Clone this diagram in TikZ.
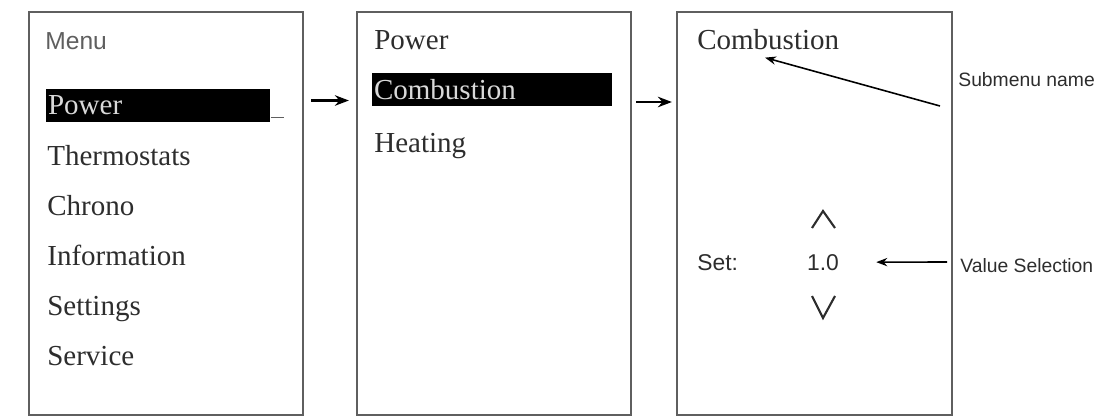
\documentclass[tikz,border=0pt]{standalone}
\usepackage{fontspec}
\setmainfont{Liberation Serif}
\setsansfont{Liberation Sans}
\usetikzlibrary{arrows.meta,calc}
\definecolor{frame}{RGB}{95,95,95}
\definecolor{ink}{RGB}{45,45,45}

\begin{document}
\begin{tikzpicture}[x=0.02cm,y=-0.02cm,
 panel/.style={draw=frame,line width=1.3pt,minimum width=5.48cm,minimum height=8.06cm},
 item/.style={anchor=base west,inner sep=0pt,text=ink,font=\fontsize{16.5}{18}\selectfont},
 hl/.style={anchor=west,fill=black,text=white!85!black,inner xsep=1pt,inner ysep=0pt,
 minimum height=.68cm,align=left,font=\fontsize{16.5}{18}\selectfont},
 num/.style={anchor=base west,inner sep=0pt,text=ink,font=\sffamily\fontsize{13}{15}\selectfont},
 note/.style={anchor=west,inner sep=0pt,text=ink,font=\sffamily\fontsize{11}{13}\selectfont},
 arrow/.style={-{Stealth[length=2.8mm]},line width=1.2pt},
 pointer/.style={-{Stealth[length=2.2mm]},line width=.9pt},
 chev/.style={draw=ink,line width=1.2pt}
]
\useasboundingbox (0,0) rectangle (1109,419);
\node[panel] (menu) at (166,213.5) {};
\node[panel] (sub) at (494,213.5) {};
\node[panel,minimum width=5.5cm] (edit) at (814.5,213.5) {};

% main menu
\node[item,font=\sffamily\fontsize{14}{16}\selectfont,text=frame] (title) at (45,50) {Menu};
\node[hl,text width=4.41cm] (power) at (46,105.5) {Power};
\draw[frame,line width=.6pt] ($(power.south east)+(0,-5)$) -- +(13,0);
\node[item] (thermo) at (47,165) {Thermostats};
\node[item] (chrono) at (47,215) {Chrono};
\node[item] (info) at (47,265) {Information};
\node[item] (settings) at (47,315) {Settings};
\node[item] (service) at (47,365) {Service};

% submenu
\node[item] (subtitle) at (374,50) {Power};
\node[hl,text width=4.73cm] (comb) at (372,89.5) {Combustion};
\node[item] (heating) at (374,152) {Heating};

% value screen
\node[item] (name) at (697,50) {Combustion};
\node[num] (setlbl) at (697,270) {Set:};
\node[num,anchor=base] (val) at (823,270) {1.0};
\draw[chev] (812,228) -- (823,211) -- (835,228);
\draw[chev] (812,296) -- (823,318) -- (835,296);

\node[note] (notename) at (958,80) {Submenu name};
\node[note] (noteval) at (960,266) {Value Selection};

\draw[arrow] ($(menu.east|-power)+(7,-5)$) -- ($(sub.west|-power)+(-7,-5)$);
\draw[arrow] ($(sub.east|-comb)+(4,12.5)$) -- ($(edit.west|-comb)+(-4,12.5)$);
\draw[pointer] ($(notename.west)+(-18,26)$) -- ($(name.south west)+(68,7)$);
\draw[pointer] ($(noteval.west)+(-13,-4)$) -- ($(val.east)+(37,0)$);
\end{tikzpicture}
\end{document}
